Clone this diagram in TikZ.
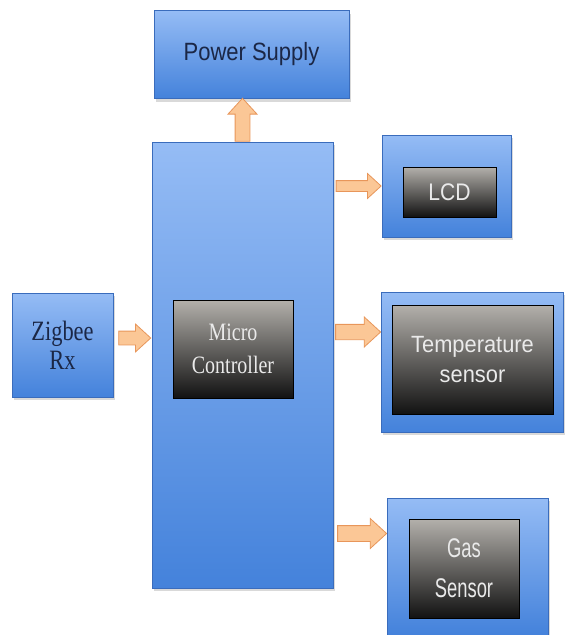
\documentclass[tikz,border=0pt]{standalone}
\usepackage{fontspec}
\setmainfont{Liberation Serif}
\setsansfont{Liberation Sans}
\newfontfamily\narrowserif[FakeStretch=0.8]{Liberation Serif}
\newfontfamily\narrowsans[FakeStretch=0.88]{Liberation Sans}
\newfontfamily\tempsans[FakeStretch=0.93]{Liberation Sans}
\newfontfamily\gassans[FakeStretch=0.68]{Liberation Sans}
\usetikzlibrary{positioning,shapes.arrows,shadows,calc}
\definecolor{BoxTop}{HTML}{95BCF5}
\definecolor{BoxBot}{HTML}{4482DB}
\definecolor{BoxLine}{HTML}{3A6CBC}
\definecolor{ChipTop}{HTML}{B3B0AB}
\definecolor{ChipBot}{HTML}{121212}
\definecolor{ArrowFill}{HTML}{FBC796}
\definecolor{ArrowLine}{HTML}{E8965A}
\definecolor{Navy}{HTML}{1B2746}
\definecolor{ChipText}{HTML}{EAEAEA}

\begin{document}
\begin{tikzpicture}[
  x=1pt,y=-1pt,
  blockbox/.style={draw=BoxLine,line width=0.6pt,top color=BoxTop,bottom color=BoxBot,inner sep=0pt,align=center,
    drop shadow={opacity=0.3,shadow xshift=1.5pt,shadow yshift=-3pt}},
  chip/.style={draw=black,line width=1pt,top color=ChipTop,bottom color=ChipBot,inner sep=0pt,align=center,text=ChipText},
  fatarrow/.style={single arrow,draw=ArrowLine,fill=ArrowFill,line width=0.8pt,inner sep=0pt,single arrow tip angle=85}
]
\useasboundingbox (0,0) rectangle (565,635);

% blue blocks
\node[blockbox,minimum width=181pt,minimum height=446pt] (mcu) at (242.5,365) {};
\node[blockbox,minimum width=195pt,minimum height=88pt,text=Navy,font=\narrowsans\fontsize{25}{29}\selectfont] (power) at (251.5,54.5) {Power Supply};
\node[blockbox,minimum width=101pt,minimum height=104pt,text=Navy,font=\narrowserif\fontsize{28}{29}\selectfont] (zig) at (62.5,345) {Zigbee\\Rx};
\node[blockbox,minimum width=129pt,minimum height=102pt] (lcd) at (446.5,186) {};
\node[blockbox,minimum width=182pt,minimum height=140pt] (temp) at (472.5,362) {};
\node[blockbox,minimum width=161pt,minimum height=137pt] (gas) at (468,566.5) {};

% dark inner boxes
\node[chip,minimum width=120pt,minimum height=98pt,font=\narrowserif\fontsize{25}{33}\selectfont] (mcuin) at (233,349) {Micro\\Controller};
\node[chip,minimum width=93pt,minimum height=50pt,font=\narrowsans\fontsize{24}{28}\selectfont] (lcdin) at (449.5,192) {LCD};
\node[chip,minimum width=161pt,minimum height=109pt,font=\tempsans\fontsize{23.5}{30}\selectfont] (tempin) at (472.5,359.5) {Temperature\\sensor};
\node[chip,minimum width=110pt,minimum height=99pt,font=\gassans\fontsize{27}{40}\selectfont] (gasin) at (464,568.5) {Gas\\Sensor};

% block arrows
\node[fatarrow,shape border rotate=90,anchor=tail,minimum height=43pt,minimum width=28pt,inner sep=7pt] (toPower) at (mcu.north) {};
\node[fatarrow,anchor=tail,minimum height=32pt,minimum width=27pt,inner ysep=6.5pt] (fromZig) at ($(zig.east)+(5,-7)$) {};
\node[fatarrow,anchor=tip,minimum height=45pt,minimum width=20pt,inner ysep=5pt] (toLcd) at (lcd.west) {};
\node[fatarrow,anchor=tip,minimum height=45pt,minimum width=30pt,inner ysep=7pt] (toTemp) at ($(temp.west)+(0,-30)$) {};
\node[fatarrow,anchor=tip,minimum height=49pt,minimum width=29pt,inner ysep=7.5pt] (toGas) at ($(gas.west)+(0,-33)$) {};
\end{tikzpicture}
\end{document}
